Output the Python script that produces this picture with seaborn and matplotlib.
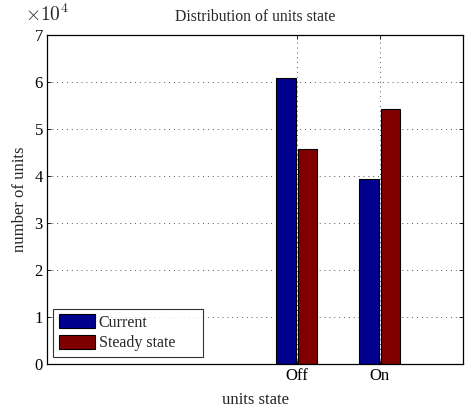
import matplotlib
matplotlib.use("Agg")
import matplotlib.pyplot as plt
import seaborn as sns
import pandas as pd

categories = ["Off", "On"]
series = ["Current", "Steady state"]
current = [60800, 39300]
steady = [45800, 54300]
colors = ["#00008f", "#800000"]

df = pd.DataFrame({
    "state": categories * 2,
    "series": [series[0]] * 2 + [series[1]] * 2,
    "value": current + steady,
})

sns.set_theme(style="white")
plt.rcParams["font.family"] = ["Liberation Serif", "DejaVu Serif"]
plt.rcParams["mathtext.fontset"] = "cm"

fig = plt.figure(figsize=(4.66, 4.07), dpi=100)
ax = fig.add_axes([47 / 466, 1 - 364 / 407, (463 - 47) / 466, (364 - 35) / 407])

sns.barplot(data=df, x="state", y="value", hue="series", palette=colors,
            width=0.52, gap=0.1, edgecolor="black", linewidth=0.8,
            saturation=1, ax=ax)

ax.set_xlim(-3, 2)
ax.set_ylim(0, 70000)
yt = [0, 10000, 20000, 30000, 40000, 50000, 60000, 70000]
ax.set_yticks(yt)
ax.set_yticklabels([str(v // 10000) for v in yt], fontsize=12)
ax.set_xticks([0, 1])
ax.set_xticklabels(categories, fontsize=12)
ax.tick_params(axis="both", direction="in", length=3, width=0.6, pad=3,
               colors="black", left=True, bottom=True, top=True, right=True)
ax.grid(True, linestyle=(0, (1, 4)), color="#555555", linewidth=0.7)
ax.set_axisbelow(True)
for s in ax.spines.values():
    s.set_color("black")
    s.set_linewidth(0.9)

ax.set_xlabel("units state", fontsize=12, labelpad=5.5)
ax.set_ylabel("number of units", fontsize=12, labelpad=5)
ax.set_title("Distribution of units state", fontsize=11.3, pad=10)
ax.text(-0.053, 1.03, r"$\times10^{4}$", transform=ax.transAxes,
        fontsize=14, ha="left", va="bottom")

leg = ax.legend(loc="lower left", fontsize=11.5, frameon=True, fancybox=False,
                edgecolor="black", handlelength=2.3, handleheight=1.0,
                handletextpad=0.2, borderpad=0.35, labelspacing=0.25,
                borderaxespad=0, mode="expand",
                bbox_to_anchor=(6 / 416, 7 / 329, 150 / 416, 0))
leg.get_frame().set_linewidth(0.8)
leg.set_title(None)

fig.savefig("out.png", dpi=100)
